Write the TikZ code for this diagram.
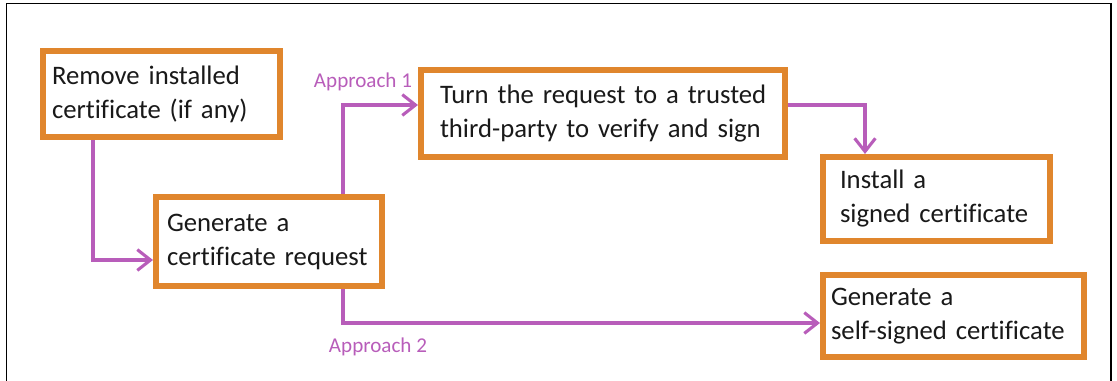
\documentclass[tikz,border=0pt]{standalone}
\usepackage{fontspec}
\setmainfont{Carlito}[Ligatures=NoCommon]
\usetikzlibrary{arrows.meta}
\definecolor{boxorange}{HTML}{E0862D}
\definecolor{flowpurple}{HTML}{B85DBA}
\begin{document}
\begin{tikzpicture}[scale=1,
    certbox/.style={draw=boxorange, line width=4.3pt, fill=white, align=left, text=black!90, font=\fontsize{19}{24.2}\selectfont, inner ysep=0pt},
    flow/.style={draw=flowpurple, line width=3.2pt, -{Straight Barb[length=3.3mm,width=5.2mm,line width=2.2pt]}},
    approach/.style={text=flowpurple, font=\fontsize{15}{18}\selectfont, inner sep=0pt}]
    \useasboundingbox (0,0) rectangle (27.925,-9.5);
    \clip (0,0) rectangle (27.925,-9.5);
    \draw[line width=1.4pt] (0.1625,-0.0875) rectangle (27.775,-9.8);
    % steps
    \node[certbox, text width=5.475cm, inner xsep=0.225cm, minimum height=2.15cm] (remove) at (4.0375,-2.35) {\mbox{Remove installed}\\\mbox{certificate (if any)}};
    \node[certbox, text width=5.1cm, inner xsep=0.275cm, minimum height=2.225cm] (request) at (6.725,-6.0375) {\mbox{Generate a}\\\mbox{certificate request}};
    \node[certbox, text width=8.15cm, inner xsep=0.475cm, minimum height=2.175cm] (trusted) at (15.075,-2.8375) {\mbox{Turn the request to a trusted}\\\mbox{third-party to verify and sign}};
    \node[certbox, text width=4.825cm, inner xsep=0.425cm, minimum height=2.1cm] (install) at (23.4125,-4.975) {\mbox{Install a}\\\mbox{signed certificate}};
    \node[certbox, text width=6.125cm, inner xsep=0.2cm, minimum height=2.05cm] (selfsigned) at (23.8375,-7.9) {\mbox{Generate a}\\\mbox{self-signed certificate}};
    % connectors
    \draw[flow] ([xshift=-1.7125cm]remove.south) |- ([yshift=-0.4625cm]request.west);
    \draw[flow] ([xshift=1.85cm]request.north) |- ([yshift=0.2125cm]trusted.west);
    \draw[flow] ([yshift=0.2125cm]trusted.east) -| ([xshift=-1.7875cm]install.north);
    \draw[flow] ([xshift=1.85cm]request.south) |- ([yshift=-0.175cm]selfsigned.west);
    \node[approach] (appr1) at (9.075,-2.05) {Approach 1};
    \node[approach] (appr2) at (9.45,-8.675) {Approach 2};
\end{tikzpicture}
\end{document}
